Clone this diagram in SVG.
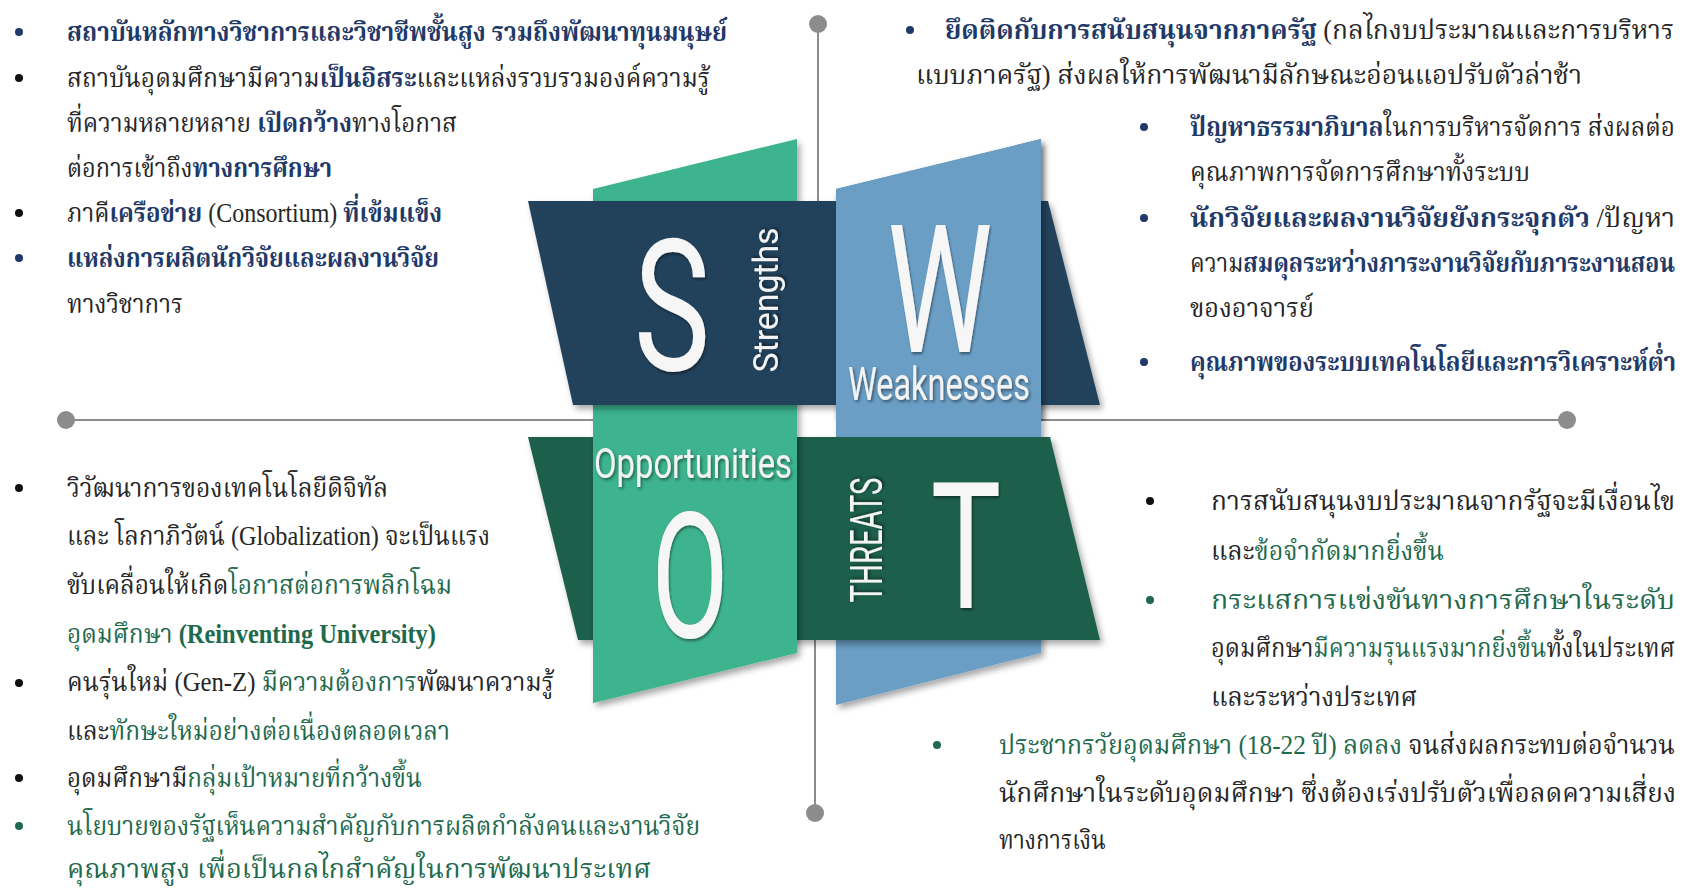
<svg xmlns="http://www.w3.org/2000/svg" xmlns:xlink="http://www.w3.org/1999/xlink" width="1688" height="890" viewBox="0 0 1688 890">
<style>
.t{font-family:'Liberation Serif','Noto Serif Thai','Noto Sans Thai',serif;font-size:27px;fill:#262626}
.b{font-weight:bold;fill:#1f3a68}
.g{fill:#1e6a4c}
.gb{font-weight:bold;fill:#1e6a4c}
.big{font-family:Roboto,'Liberation Sans',sans-serif;fill:#f6f6f6;text-anchor:middle}
.lab{font-family:Roboto,'Liberation Sans',sans-serif;fill:#f3f3f3;text-anchor:middle}
.ax{stroke:#8c8c8c;stroke-width:2;fill:none}
.dot{fill:#8c8c8c}
.bn{fill:#1f3a68}.bk{fill:#111}.bg{fill:#1e6a4c}
</style>
<defs>
<filter id="sh" x="-15%" y="-15%" width="135%" height="135%"><feDropShadow dx="3" dy="4" stdDeviation="3" flood-color="#000" flood-opacity="0.35"/></filter>
<filter id="ts" x="-20%" y="-20%" width="140%" height="140%"><feDropShadow dx="1.5" dy="2" stdDeviation="1.5" flood-color="#000" flood-opacity="0.45"/></filter>
<polygon id="bluePanel" points="836,189 1041,139 1041,653 836,705"/>
<clipPath id="topHalf"><rect x="0" y="0" width="1688" height="421"/></clipPath>
</defs>
<rect width="1688" height="890" fill="#ffffff"/>

<g id="connectors">
<line class="ax" x1="818" y1="24" x2="818" y2="201"/>
<line class="ax" x1="815" y1="640" x2="815" y2="813"/>
<line class="ax" x1="66" y1="420" x2="593" y2="420"/>
<line class="ax" x1="1041" y1="420" x2="1567" y2="420"/>
<circle class="dot" cx="818" cy="24" r="9"/>
<circle class="dot" cx="815" cy="813" r="9"/>
<circle class="dot" cx="66" cy="420" r="9"/>
<circle class="dot" cx="1567" cy="420" r="9"/>
</g>

<g id="node-w-lower">
<use xlink:href="#bluePanel" href="#bluePanel" fill="#6a9ec5" filter="url(#sh)"/>
</g>

<g id="node-t">
<polygon points="528,437 1050,437 1100,640 578,640" fill="#1f5e4b" filter="url(#sh)"/>
<text class="lab" font-size="45" textLength="125" lengthAdjust="spacingAndGlyphs" transform="translate(882,540) rotate(-90)" filter="url(#ts)">THREATS</text>
<text class="big" font-size="176" transform="translate(966,608) scale(0.67,1)" filter="url(#ts)">T</text>
</g>

<g id="node-o">
<polygon points="593,189 797,139 797,653 593,703" fill="#3db38e" filter="url(#sh)"/>
<text class="lab" x="693" y="478" font-size="42" textLength="198" lengthAdjust="spacingAndGlyphs" filter="url(#ts)">Opportunities</text>
<text class="big" font-size="175" transform="translate(690,637) scale(0.64,1)" filter="url(#ts)">O</text>
</g>

<g id="node-s">
<polygon points="528,201 1048,201 1100,405 573,405" fill="#23435b" filter="url(#sh)"/>
<text class="big" font-size="183" transform="translate(672,370) scale(0.7,1)" filter="url(#ts)">S</text>
<text class="lab" font-size="35" textLength="145" lengthAdjust="spacingAndGlyphs" transform="translate(778,300) rotate(-90)" filter="url(#ts)">Strengths</text>
</g>

<g id="node-w">
<use xlink:href="#bluePanel" href="#bluePanel" fill="#6a9ec5" filter="url(#sh)" clip-path="url(#topHalf)"/>
<text class="big" font-size="179" transform="translate(940,352) scale(0.66,1)" filter="url(#ts)">W</text>
<text class="lab" x="939" y="400" font-size="46" textLength="182" lengthAdjust="spacingAndGlyphs" filter="url(#ts)">Weaknesses</text>
</g>

<g id="strengths-text" class="t">
<circle class="bn" cx="19" cy="32" r="4"/>
<circle class="bk" cx="19" cy="78" r="4"/>
<circle class="bk" cx="19" cy="213" r="4"/>
<circle class="bn" cx="19" cy="258" r="4"/>
<text x="67" y="41" textLength="660" lengthAdjust="spacingAndGlyphs"><tspan class="b">สถาบันหลักทางวิชาการและวิชาชีพชั้นสูง รวมถึงพัฒนาทุนมนุษย์</tspan></text>
<text x="67" y="87" textLength="643" lengthAdjust="spacingAndGlyphs">สถาบันอุดมศึกษามีความ<tspan class="b">เป็นอิสระ</tspan>และแหล่งรวบรวมองค์ความรู้</text>
<text x="67" y="132" textLength="390" lengthAdjust="spacingAndGlyphs">ที่ความหลายหลาย <tspan class="b">เปิดกว้าง</tspan>ทางโอกาส</text>
<text x="67" y="177" textLength="265" lengthAdjust="spacingAndGlyphs">ต่อการเข้าถึง<tspan class="b">ทางการศึกษา</tspan></text>
<text x="67" y="222" textLength="375" lengthAdjust="spacingAndGlyphs">ภาคี<tspan class="b">เครือข่าย</tspan> (Consortium) <tspan class="b">ที่เข้มแข็ง</tspan></text>
<text x="67" y="267" textLength="372" lengthAdjust="spacingAndGlyphs"><tspan class="b">แหล่งการผลิตนักวิจัยและผลงานวิจัย</tspan></text>
<text x="67" y="313" textLength="116" lengthAdjust="spacingAndGlyphs">ทางวิชาการ</text>
</g>

<g id="weaknesses-text" class="t">
<circle class="bn" cx="910" cy="30" r="4"/>
<circle class="bn" cx="1144" cy="127" r="4"/>
<circle class="bn" cx="1144" cy="218" r="4"/>
<circle class="bn" cx="1144" cy="362" r="4"/>
<text x="945" y="39" textLength="729" lengthAdjust="spacingAndGlyphs"><tspan class="b">ยึดติดกับการสนับสนุนจากภาครัฐ</tspan> (กลไกงบประมาณและการบริหาร</text>
<text x="916" y="84" textLength="666" lengthAdjust="spacingAndGlyphs">แบบภาครัฐ) ส่งผลให้การพัฒนามีลักษณะอ่อนแอปรับตัวล่าช้า</text>
<text x="1190" y="136" textLength="485" lengthAdjust="spacingAndGlyphs"><tspan class="b">ปัญหาธรรมาภิบาล</tspan>ในการบริหารจัดการ ส่งผลต่อ</text>
<text x="1190" y="181" textLength="340" lengthAdjust="spacingAndGlyphs">คุณภาพการจัดการศึกษาทั้งระบบ</text>
<text x="1190" y="227" textLength="485" lengthAdjust="spacingAndGlyphs"><tspan class="b">นักวิจัยและผลงานวิจัยยังกระจุกตัว</tspan> /ปัญหา</text>
<text x="1190" y="272" textLength="485" lengthAdjust="spacingAndGlyphs">ความ<tspan class="b">สมดุลระหว่างภาระงานวิจัยกับภาระงานสอน</tspan></text>
<text x="1190" y="317" textLength="124" lengthAdjust="spacingAndGlyphs">ของอาจารย์</text>
<text x="1190" y="371" textLength="486" lengthAdjust="spacingAndGlyphs"><tspan class="b">คุณภาพของระบบเทคโนโลยีและการวิเคราะห์ต่ำ</tspan></text>
</g>

<g id="opportunities-text" class="t">
<circle class="bk" cx="19" cy="488" r="4"/>
<circle class="bk" cx="19" cy="683" r="4"/>
<circle class="bk" cx="19" cy="778" r="4"/>
<circle class="bg" cx="19" cy="826" r="4"/>
<text x="67" y="497" textLength="321" lengthAdjust="spacingAndGlyphs">วิวัฒนาการของเทคโนโลยีดิจิทัล</text>
<text x="67" y="545" textLength="423" lengthAdjust="spacingAndGlyphs">และ โลกาภิวัตน์ (Globalization) จะเป็นแรง</text>
<text x="67" y="594" textLength="385" lengthAdjust="spacingAndGlyphs">ขับเคลื่อนให้เกิด<tspan class="g">โอกาสต่อการพลิกโฉม</tspan></text>
<text x="67" y="643" textLength="369" lengthAdjust="spacingAndGlyphs"><tspan class="g">อุดมศึกษา </tspan><tspan class="gb">(Reinventing University)</tspan></text>
<text x="67" y="691" textLength="487" lengthAdjust="spacingAndGlyphs">คนรุ่นใหม่ (Gen-Z) <tspan class="g">มีความต้องการ</tspan>พัฒนาความรู้</text>
<text x="67" y="740" textLength="383" lengthAdjust="spacingAndGlyphs">และ<tspan class="g">ทักษะใหม่อย่างต่อเนื่องตลอดเวลา</tspan></text>
<text x="67" y="787" textLength="355" lengthAdjust="spacingAndGlyphs">อุดมศึกษามี<tspan class="g">กลุ่มเป้าหมายที่กว้างขึ้น</tspan></text>
<text x="67" y="835" textLength="633" lengthAdjust="spacingAndGlyphs"><tspan class="g">นโยบายของรัฐเห็นความสำคัญกับการผลิตกำลังคนและงานวิจัย</tspan></text>
<text x="67" y="878" textLength="584" lengthAdjust="spacingAndGlyphs"><tspan class="g">คุณภาพสูง เพื่อเป็นกลไกสำคัญในการพัฒนาประเทศ</tspan></text>
</g>

<g id="threats-text" class="t">
<circle class="bk" cx="1150" cy="501" r="4"/>
<circle class="bg" cx="1150" cy="600" r="4"/>
<circle class="bg" cx="937" cy="745" r="4"/>
<text x="1211" y="510" textLength="464" lengthAdjust="spacingAndGlyphs">การสนับสนุนงบประมาณจากรัฐจะมีเงื่อนไข</text>
<text x="1211" y="560" textLength="233" lengthAdjust="spacingAndGlyphs">และ<tspan class="g">ข้อจำกัดมากยิ่งขึ้น</tspan></text>
<text x="1211" y="609" textLength="464" lengthAdjust="spacingAndGlyphs"><tspan class="g">กระแสการแข่งขันทางการศึกษาในระดับ</tspan></text>
<text x="1211" y="657" textLength="464" lengthAdjust="spacingAndGlyphs">อุดมศึกษา<tspan class="g">มีความรุนแรงมากยิ่งขึ้น</tspan>ทั้งในประเทศ</text>
<text x="1211" y="706" textLength="206" lengthAdjust="spacingAndGlyphs">และระหว่างประเทศ</text>
<text x="999" y="754" textLength="676" lengthAdjust="spacingAndGlyphs"><tspan class="g">ประชากรวัยอุดมศึกษา (18-22 ปี) ลดลง</tspan> จนส่งผลกระทบต่อจำนวน</text>
<text x="999" y="802" textLength="677" lengthAdjust="spacingAndGlyphs">นักศึกษาในระดับอุดมศึกษา ซึ่งต้องเร่งปรับตัวเพื่อลดความเสี่ยง</text>
<text x="999" y="849" textLength="107" lengthAdjust="spacingAndGlyphs">ทางการเงิน</text>
</g>
</svg>
